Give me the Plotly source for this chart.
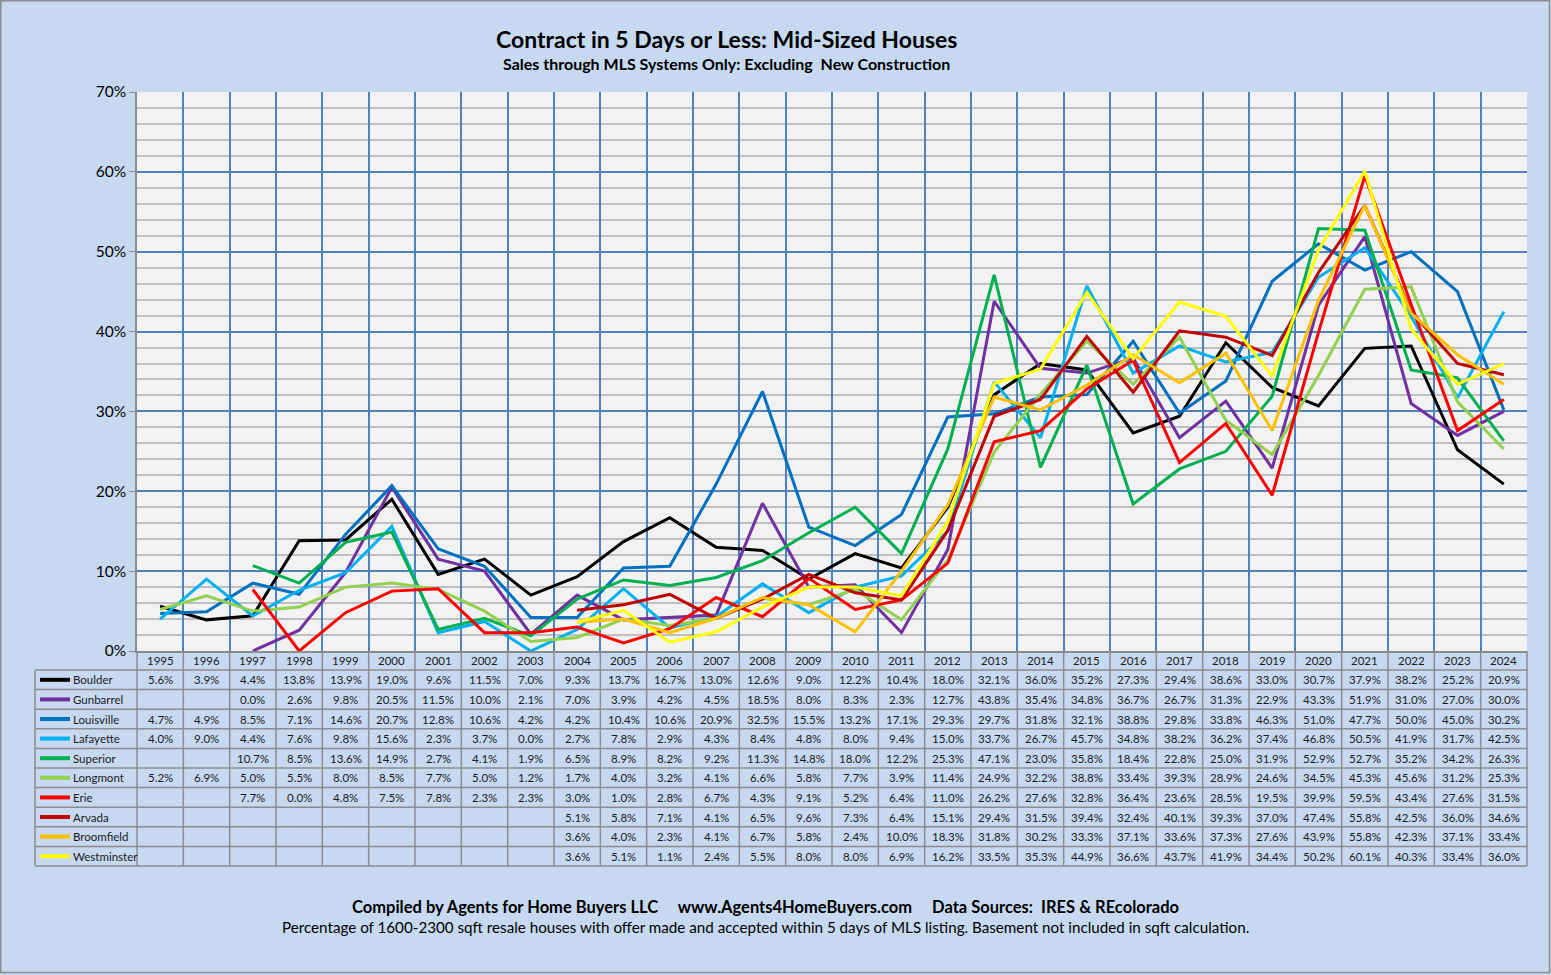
import plotly.graph_objects as go

years = [str(y) for y in range(1995, 2025)]

boulder = [5.6, 3.9, 4.4, 13.8, 13.9, 19.0, 9.6, 11.5, 7.0, 9.3, 13.7, 16.7, 13.0, 12.6, 9.0,
           12.2, 10.4, 18.0, 32.1, 36.0, 35.2, 27.3, 29.4, 38.6, 33.0, 30.7, 37.9, 38.2, 25.2, 20.9]
gunbarrel = [None, None, 0.0, 2.6, 9.8, 20.5, 11.5, 10.0, 2.1, 7.0, 3.9, 4.2, 4.5, 18.5, 8.0,
             8.3, 2.3, 12.7, 43.8, 35.4, 34.8, 36.7, 26.7, 31.3, 22.9, 43.3, 51.9, 31.0, 27.0, 30.0]
louisville = [4.7, 4.9, 8.5, 7.1, 14.6, 20.7, 12.8, 10.6, 4.2, 4.2, 10.4, 10.6, 20.9, 32.5, 15.5,
              13.2, 17.1, 29.3, 29.7, 31.8, 32.1, 38.8, 29.8, 33.8, 46.3, 51.0, 47.7, 50.0, 45.0, 30.2]
lafayette = [4.0, 9.0, 4.4, 7.6, 9.8, 15.6, 2.3, 3.7, 0.0, 2.7, 7.8, 2.9, 4.3, 8.4, 4.8,
             8.0, 9.4, 15.0, 33.7, 26.7, 45.7, 34.8, 38.2, 36.2, 37.4, 46.8, 50.5, 41.9, 31.7, 42.5]
superior = [None, None, 10.7, 8.5, 13.6, 14.9, 2.7, 4.1, 1.9, 6.5, 8.9, 8.2, 9.2, 11.3, 14.8,
            18.0, 12.2, 25.3, 47.1, 23.0, 35.8, 18.4, 22.8, 25.0, 31.9, 52.9, 52.7, 35.2, 34.2, 26.3]
longmont = [5.2, 6.9, 5.0, 5.5, 8.0, 8.5, 7.7, 5.0, 1.2, 1.7, 4.0, 3.2, 4.1, 6.6, 5.8,
            7.7, 3.9, 11.4, 24.9, 32.2, 38.8, 33.4, 39.3, 28.9, 24.6, 34.5, 45.3, 45.6, 31.2, 25.3]
erie = [None, None, 7.7, 0.0, 4.8, 7.5, 7.8, 2.3, 2.3, 3.0, 1.0, 2.8, 6.7, 4.3, 9.1,
        5.2, 6.4, 11.0, 26.2, 27.6, 32.8, 36.4, 23.6, 28.5, 19.5, 39.9, 59.5, 43.4, 27.6, 31.5]
arvada = [None] * 9 + [5.1, 5.8, 7.1, 4.1, 6.5, 9.6,
                       7.3, 6.4, 15.1, 29.4, 31.5, 39.4, 32.4, 40.1, 39.3, 37.0, 47.4, 55.8, 42.5, 36.0, 34.6]
broomfield = [None] * 9 + [3.6, 4.0, 2.3, 4.1, 6.7, 5.8,
                           2.4, 10.0, 18.3, 31.8, 30.2, 33.3, 37.1, 33.6, 37.3, 27.6, 43.9, 55.8, 42.3, 37.1, 33.4]
westminster = [None] * 9 + [3.6, 5.1, 1.1, 2.4, 5.5, 8.0,
                            8.0, 6.9, 16.2, 33.5, 35.3, 44.9, 36.6, 43.7, 41.9, 34.4, 50.2, 60.1, 40.3, 33.4, 36.0]

series = [
    ("Boulder", boulder, "#000000"),
    ("Gunbarrel", gunbarrel, "#7030A0"),
    ("Louisville", louisville, "#0070C0"),
    ("Lafayette", lafayette, "#00B0F0"),
    ("Superior", superior, "#00B050"),
    ("Longmont", longmont, "#92D050"),
    ("Erie", erie, "#FF0000"),
    ("Arvada", arvada, "#C00000"),
    ("Broomfield", broomfield, "#FFC000"),
    ("Westminster", westminster, "#FFFF00"),
]

# page geometry (pixels)
W, H = 1551, 975
L, R, T, B = 137, 1527, 92, 651
PW, PH = R - L, B - T
n = len(years)
col_w = PW / n
label_left = 35
head_h = 19
row_h = 19.6
FONT = "Lato, 'Open Sans', sans-serif"
BG = "#C6D9F1"
TABLE_LINE = "#8C8C8C"
TXT = "#1a1a1a"
CELL_SIZE = 11.5


def px(x):
    return (x - L) / PW


def py(y):
    return (B - y) / PH


def note(x, y, text, size, xref="paper", xanchor="center", color=TXT):
    return dict(x=x, y=y, xref=xref, yref="paper", text=text, showarrow=False,
                xanchor=xanchor, yanchor="middle",
                font=dict(size=size, color=color, family=FONT))


fig = go.Figure()
for name, vals, color in series:
    fig.add_trace(go.Scatter(
        x=list(range(n)),
        y=[None if v is None else v / 100 for v in vals],
        mode="lines",
        name=name,
        line=dict(color=color, width=3),
        connectgaps=False,
        showlegend=False,
        hovertemplate=name + " %{text}: %{y:.1%}<extra></extra>",
        text=years,
    ))

shapes = []
annotations = []

# data table under the plot
table_top = B
table_bottom = B + head_h + row_h * len(series)
for i in range(n + 1):
    xx = px(L + i * col_w)
    shapes.append(dict(type="line", xref="paper", yref="paper", x0=xx, x1=xx,
                       y0=py(table_top), y1=py(table_bottom),
                       line=dict(color=TABLE_LINE, width=1.5)))
shapes.append(dict(type="line", xref="paper", yref="paper", x0=px(label_left), x1=px(label_left),
                   y0=py(B + head_h), y1=py(table_bottom), line=dict(color=TABLE_LINE, width=1.5)))
for r in range(len(series) + 1):
    yy = py(B + head_h + r * row_h)
    shapes.append(dict(type="line", xref="paper", yref="paper", x0=px(label_left), x1=1,
                       y0=yy, y1=yy, line=dict(color=TABLE_LINE, width=1.5)))

for i, yr in enumerate(years):
    annotations.append(note(i, py(B + head_h / 2 + 0.5), yr, CELL_SIZE, xref="x"))

for r, (name, vals, color) in enumerate(series):
    yc = py(B + head_h + (r + 0.5) * row_h)
    shapes.append(dict(type="line", xref="paper", yref="paper", x0=px(40), x1=px(70), y0=yc, y1=yc,
                       line=dict(color=color, width=4)))
    annotations.append(note(px(71), yc, name, CELL_SIZE, xanchor="left"))
    for i, v in enumerate(vals):
        if v is None:
            continue
        annotations.append(note(i, yc, f"{v:.1f}%", CELL_SIZE, xref="x"))

# titles and footer
annotations += [
    note(px(726), py(39), "<b>Contract in 5 Days or Less: Mid-Sized Houses</b>", 23, color="#000000"),
    note(px(726), py(64), "<b>Sales through MLS Systems Only: Excluding  New Construction</b>", 16,
         color="#000000"),
    note(px(765), py(907), "<b>Compiled by Agents for Home Buyers LLC     www.Agents4HomeBuyers.com     "
                           "Data Sources:  IRES &amp; REcolorado</b>", 16.5, color="#000000"),
    note(px(765), py(927), "Percentage of 1600-2300 sqft resale houses with offer made and accepted "
                           "within 5 days of MLS listing. Basement not included in sqft calculation.",
         15.2, color="#000000"),
]

# outer chart border
shapes.append(dict(type="rect", xref="paper", yref="paper", x0=px(0.75), x1=px(W - 1.5),
                   y0=py(H - 2.5), y1=py(0.75), line=dict(color="#8C8C8C", width=1.5), layer="below"))

fig.update_layout(
    width=W,
    height=H,
    margin=dict(l=L, r=W - R, t=T, b=H - B),
    paper_bgcolor=BG,
    plot_bgcolor="#F2F2F2",
    font=dict(family=FONT, color="#000000"),
    xaxis=dict(
        range=[-0.5, n - 0.5],
        tickmode="array",
        tickvals=[i - 0.5 for i in range(n + 1)],
        showticklabels=False,
        showgrid=True,
        gridcolor="#4F81BD",
        gridwidth=1.8,
        zeroline=False,
        showline=True,
        linecolor="#8C8C8C",
        linewidth=1.5,
        ticks="",
        fixedrange=True,
    ),
    yaxis=dict(
        range=[0, 0.70001],
        tick0=0,
        dtick=0.1,
        tickformat=".0%",
        showgrid=True,
        gridcolor="#4F81BD",
        gridwidth=1.8,
        minor=dict(dtick=0.02, showgrid=True, gridcolor="#BFBFBF", gridwidth=1.5),
        zeroline=False,
        showline=True,
        linecolor="#8C8C8C",
        linewidth=1.5,
        ticks="outside",
        ticklen=6,
        tickcolor="#8C8C8C",
        tickfont=dict(size=15.5, color="#000000", family=FONT),
        fixedrange=True,
    ),
    shapes=shapes,
    annotations=annotations,
)

fig.write_html("out.html", config={"displayModeBar": False},
               post_script="document.body.style.margin='0px';")
